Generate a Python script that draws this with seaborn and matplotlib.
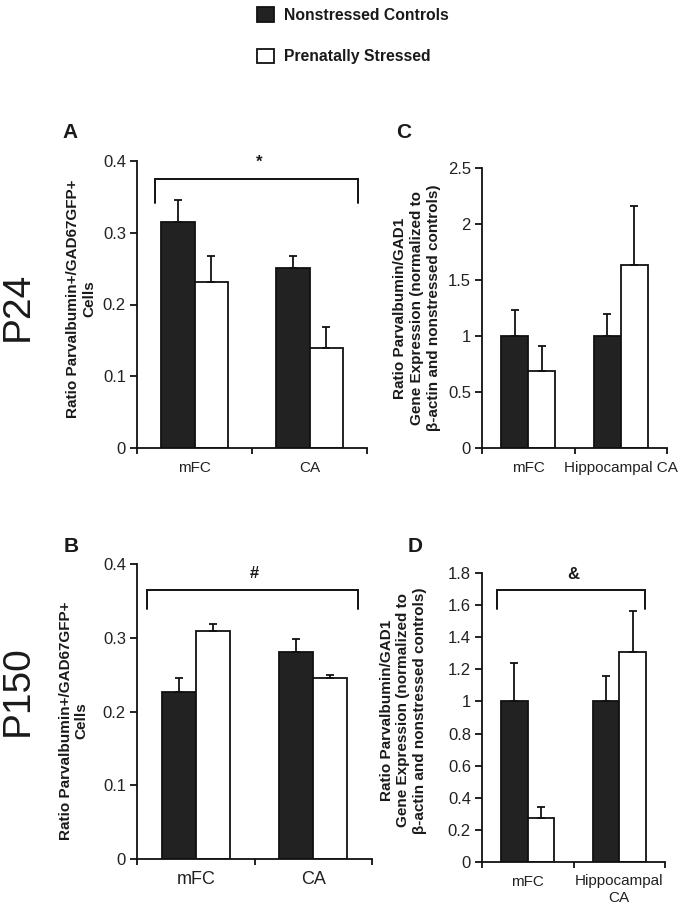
import numpy as np
import pandas as pd
import matplotlib
matplotlib.use("Agg")
import matplotlib.pyplot as plt
import seaborn as sns
from matplotlib.patches import Patch
from matplotlib.ticker import FuncFormatter

# ---------------- data ----------------
groups = ["Nonstressed Controls", "Prenatally Stressed"]

regions_A = ["mFC", "CA"]
A_control = [0.315, 0.251]
A_control_err = [0.030, 0.017]
A_stressed = [0.232, 0.140]
A_stressed_err = [0.036, 0.028]

regions_B = ["mFC", "CA"]
B_control = [0.226, 0.281]
B_control_err = [0.020, 0.017]
B_stressed = [0.309, 0.245]
B_stressed_err = [0.010, 0.004]

regions_C = ["mFC", "Hippocampal CA"]
C_control = [1.0, 1.0]
C_control_err = [0.235, 0.20]
C_stressed = [0.69, 1.635]
C_stressed_err = [0.22, 0.53]

regions_D = ["mFC", "Hippocampal\nCA"]
D_control = [1.0, 1.0]
D_control_err = [0.24, 0.16]
D_stressed = [0.275, 1.305]
D_stressed_err = [0.068, 0.256]

ticks_AB = [0, 0.1, 0.2, 0.3, 0.4]
ticks_C = [0, 0.5, 1, 1.5, 2, 2.5]
ticks_D = [0, 0.2, 0.4, 0.6, 0.8, 1, 1.2, 1.4, 1.6, 1.8]

ylabel_AB = "Ratio Parvalbumin+/GAD67GFP+\nCells"
ylabel_CD = "Ratio Parvalbumin/GAD1\nGene Expression (normalized to\nβ-actin and nonstressed controls)"

# ---------------- style ----------------
sns.set_style("ticks")
plt.rcParams["font.family"] = ["Liberation Sans", "DejaVu Sans"]
plt.rcParams["axes.linewidth"] = 1.3
plt.rcParams["text.color"] = "#1a1a1a"

palette = {groups[0]: "#222222", groups[1]: "#ffffff"}
W, H = 683, 908
fig = plt.figure(figsize=(W / 100, H / 100), dpi=100)


def px_axes(left, top, right, bottom):
    return fig.add_axes([left / W, 1 - bottom / H, (right - left) / W, (bottom - top) / H])


def draw(ax, regions, ctrl, ctrl_err, stress, stress_err, yticks, ylabel,
         label_xy, xsize, lspace):
    df = pd.DataFrame({
        "region": regions * 2,
        "group": [groups[0]] * len(regions) + [groups[1]] * len(regions),
        "value": list(ctrl) + list(stress),
        "err": list(ctrl_err) + list(stress_err),
    })
    sns.barplot(data=df, x="region", y="value", hue="group", order=regions,
                hue_order=groups, palette=palette, saturation=1, width=0.58,
                edgecolor="#111111", linewidth=1.3, errorbar=None,
                legend=False, ax=ax)
    bar_containers = list(ax.containers)
    for h, cont in enumerate(bar_containers):
        sub = df[df["group"] == groups[h]].set_index("region").loc[regions]
        xs = [b.get_x() + b.get_width() / 2 for b in cont.patches]
        ys = [b.get_height() for b in cont.patches]
        errs = sub["err"].values
        ax.errorbar(xs, ys, yerr=[np.zeros(len(errs)), errs], fmt="none",
                    ecolor="#111111", elinewidth=1.3, capsize=3, capthick=1.3,
                    zorder=5)
    ax.set_xlim(-0.5, len(regions) - 0.5)
    ax.set_ylim(yticks[0], yticks[-1])
    ax.set_yticks(yticks)
    ax.yaxis.set_major_formatter(FuncFormatter(lambda v, p: f"{v:g}"))
    ax.set_xticks(np.arange(len(regions) + 1) - 0.5)
    ax.set_xticklabels([])
    ax.set_xticks(np.arange(len(regions)), minor=True)
    ax.set_xticklabels(regions, minor=True)
    ax.tick_params(axis="x", which="major", direction="out", length=4, width=1.3, color="#111111")
    ax.tick_params(axis="x", which="minor", length=0, pad=9, labelsize=xsize, labelcolor="#222222")
    ax.tick_params(axis="y", direction="out", length=5, width=1.3, pad=3,
                   labelsize=12, labelcolor="#222222", color="#111111")
    ax.set_xlabel("")
    ax.set_ylabel("")
    for s in ["left", "bottom"]:
        ax.spines[s].set_color("#111111")
    sns.despine(ax=ax)
    ax.text(label_xy[0], label_xy[1], ylabel, transform=ax.transAxes, rotation=90,
            ha="center", va="center", multialignment="center",
            fontsize=11, fontweight="bold", linespacing=lspace)


def bracket(ax, x0, x1, y_top, y_bot, sym, y_sym):
    ax.plot([x0, x0, x1, x1], [y_bot, y_top, y_top, y_bot], color="#111111",
            lw=1.4, clip_on=False, solid_joinstyle="miter")
    ax.text((x0 + x1) / 2 + 0.02, y_sym, sym, ha="center", va="center",
            fontsize=12, fontweight="bold", clip_on=False)


axA = px_axes(137, 161, 367, 448)
axC = px_axes(482, 168, 667, 448)
axB = px_axes(137, 564, 372, 859)
axD = px_axes(482, 573, 665, 862)

draw(axA, regions_A, A_control, A_control_err, A_stressed, A_stressed_err,
     ticks_AB, ylabel_AB, (-0.243, 0.52), 11, 1.2)
draw(axC, regions_C, C_control, C_control_err, C_stressed, C_stressed_err,
     ticks_C, ylabel_CD, (-0.35, 0.5), 11, 1.25)
draw(axB, regions_B, B_control, B_control_err, B_stressed, B_stressed_err,
     ticks_AB, ylabel_AB, (-0.27, 0.47), 13, 1.15)
draw(axD, regions_D, D_control, D_control_err, D_stressed, D_stressed_err,
     ticks_D, ylabel_CD, (-0.43, 0.525), 11, 1.25)

bracket(axA, -0.343, 1.42, 0.375, 0.341, "*", 0.398)
bracket(axB, -0.415, 1.38, 0.365, 0.339, "#", 0.387)
bracket(axD, -0.336, 1.28, 1.696, 1.574, "&", 1.79)

# panel letters
for lab, x, y in [("A", 70, 133), ("C", 404, 133), ("B", 71, 546), ("D", 415, 546)]:
    fig.text(x / W, 1 - y / H, lab, ha="center", va="center", fontsize=15, fontweight="bold")

# row labels
fig.text(18 / W, 1 - 306 / H, "P24", rotation=90, ha="center", va="center", fontsize=28)
fig.text(18 / W, 1 - 691 / H, "P150", rotation=90, ha="center", va="center", fontsize=28)

# legend
handles = [Patch(facecolor=palette[g], edgecolor="#111111", linewidth=1.3) for g in groups]
fig.legend(handles, groups, loc="upper left", bbox_to_anchor=(257 / W, 1 - 7 / H),
           frameon=False, borderpad=0, borderaxespad=0, handlelength=1.1,
           handleheight=1.05, handletextpad=0.65, labelspacing=1.65,
           prop={"weight": "bold", "size": 11.3})

fig.savefig("out.png", dpi=100)
